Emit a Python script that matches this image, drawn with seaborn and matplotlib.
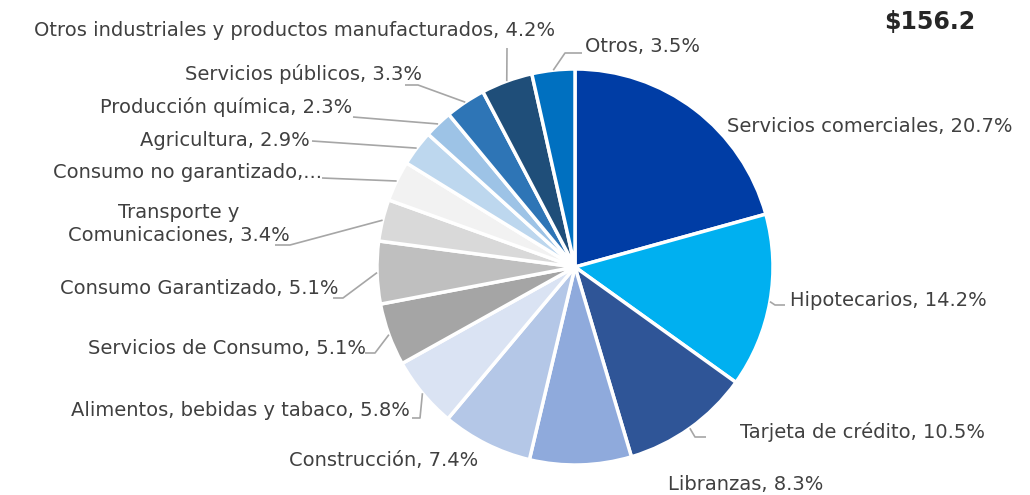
import matplotlib
matplotlib.use('Agg')
import matplotlib.pyplot as plt
import seaborn as sns
import numpy as np

# Data
categories = ['Servicios comerciales', 'Hipotecarios', 'Tarjeta de crédito', 'Libranzas',
              'Construcción', 'Alimentos, bebidas y tabaco', 'Servicios de Consumo',
              'Consumo Garantizado', 'Transporte y\nComunicaciones', 'Consumo no garantizado',
              'Agricultura', 'Producción química', 'Servicios públicos',
              'Otros industriales y productos manufacturados', 'Otros']
shares = [20.7, 14.2, 10.5, 8.3, 7.4, 5.8, 5.1, 5.1, 3.4, 3.3, 2.9, 2.3, 3.3, 4.2, 3.5]
colors = ['#003DA5', '#00B0F0', '#2F5597', '#8FAADC', '#B4C7E7', '#DAE3F3', '#A5A5A5',
          '#BFBFBF', '#D9D9D9', '#F2F2F2', '#BDD7EE', '#9DC3E6', '#2E75B6', '#1F4E79', '#0070C0']
total_label = '$156.2'

# Layout in pixels (from top-left): text x, text y, alignment, leader points after the wedge
W, H = 1030, 495
CX, CY, R = 575, 267, 198
layout = [
    (727, 127, 'left', []),
    (790, 300, 'left', [(775, 305), (785, 305)]),
    (740, 432, 'left', [(695, 437), (706, 437)]),
    (668, 484, 'left', []),
    (478, 461, 'right', []),
    (410, 411, 'right', [(420, 418), (412, 418)]),
    (366, 348, 'right', [(375, 353), (365, 353)]),
    (338, 288, 'right', [(343, 298), (333, 298)]),
    (290, 224, 'right', [(290, 245), (275, 245)]),
    (322, 172, 'right', [(322, 178)]),
    (310, 140, 'right', [(312, 141)]),
    (352, 107, 'right', [(353, 117)]),
    (422, 74, 'right', [(418, 85), (405, 85)]),
    (555, 30, 'right', [(507, 48)]),
    (585, 47, 'left', [(565, 53), (582, 53)]),
]

sns.set_theme(style='white')
plt.rcParams['font.family'] = ['DejaVu Sans']
text_color = '#404040'
line_color = '#A6A6A6'

fig = plt.figure(figsize=(W / 100, H / 100), dpi=100)
ax = fig.add_axes([0, 0, 1, 1])

wedges, _ = ax.pie(shares, colors=colors, startangle=90, counterclock=False,
                   center=(CX, H - CY), radius=R,
                   wedgeprops=dict(edgecolor='white', linewidth=2.5))
ax.set_xlim(0, W)
ax.set_ylim(0, H)
ax.set_aspect('equal')
ax.axis('off')

for w, cat, val, (tx, ty, ha, pts) in zip(wedges, categories, shares, layout):
    if cat.startswith('Consumo no'):
        txt = cat + ',...'
    else:
        txt = f'{cat}, {val:.1f}%'
    if pts:
        mid = np.deg2rad((w.theta1 + w.theta2) / 2)
        xs = [CX + R * np.cos(mid)] + [p[0] for p in pts]
        ys = [H - CY + R * np.sin(mid)] + [H - p[1] for p in pts]
        ax.plot(xs, ys, color=line_color, lw=1.2, solid_capstyle='butt')
    ax.text(tx, H - ty, txt, ha=ha, va='center', fontsize=14, color=text_color,
            multialignment='center', linespacing=1.3)

ax.text(930, H - 22, total_label, ha='center', va='center', fontsize=17,
        fontweight='bold', color='#262626')

fig.savefig('out.png', dpi=100)
